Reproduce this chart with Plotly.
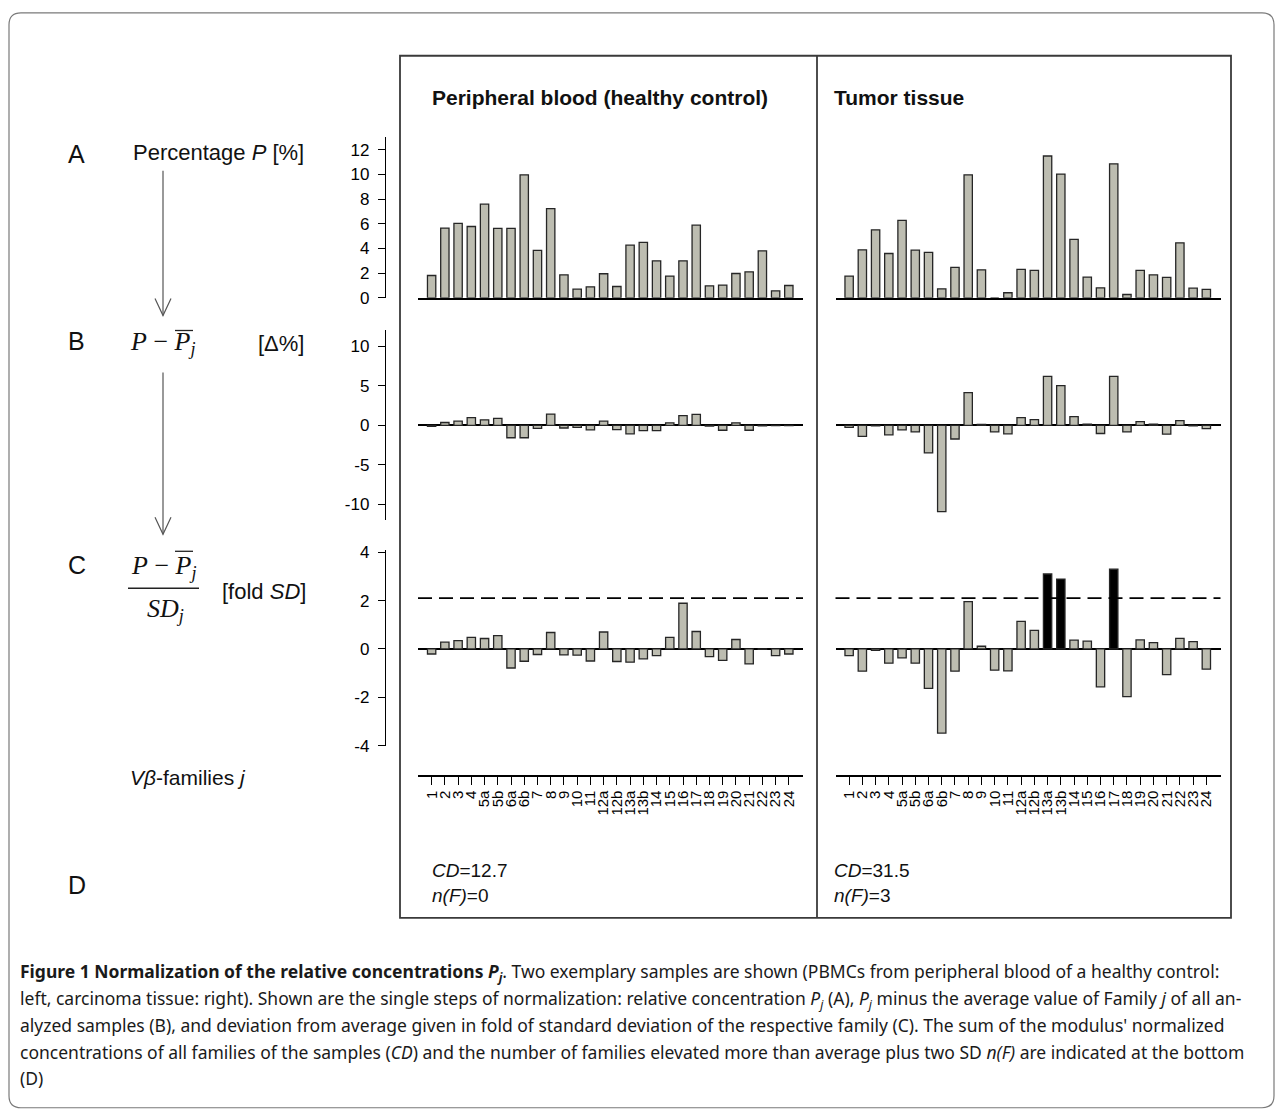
import plotly.graph_objects as go

W, H = 1283, 1117

families = ["1", "2", "3", "4", "5a", "5b", "6a", "6b", "7", "8", "9", "10", "11",
            "12a", "12b", "13a", "13b", "14", "15", "16", "17", "18", "19", "20",
            "21", "22", "23", "24"]

blood_pct = [1.81, 5.65, 6.03, 5.78, 7.59, 5.62, 5.62, 9.97, 3.84, 7.22, 1.86, 0.70, 0.89,
             1.95, 0.92, 4.27, 4.49, 3.00, 1.76, 3.00, 5.89, 0.97, 1.03, 1.97, 2.11, 3.81,
             0.57, 1.00]
tumor_pct = [1.76, 3.89, 5.51, 3.59, 6.27, 3.86, 3.68, 0.73, 2.46, 9.97, 2.27, 0.0, 0.41,
             2.30, 2.22, 11.49, 10.03, 4.73, 1.68, 0.81, 10.86, 0.27, 2.22, 1.86, 1.65, 4.46,
             0.78, 0.68]
blood_delta = [-0.12, 0.37, 0.53, 0.98, 0.70, 0.90, -1.56, -1.56, -0.37, 1.43, -0.33, -0.25,
               -0.57, 0.53, -0.53, -1.07, -0.66, -0.66, 0.33, 1.23, 1.39, -0.08, -0.61, 0.33,
               -0.61, -0.04, -0.03, -0.03]
tumor_delta = [-0.25, -1.39, -0.04, -1.19, -0.57, -0.82, -3.48, -10.89, -1.72, 4.14, 0.12,
               -0.82, -1.07, 0.98, 0.74, 6.19, 5.04, 1.11, 0.16, -1.02, 6.19, -0.82, 0.49,
               0.16, -1.11, 0.61, -0.04, -0.41]
blood_sd = [-0.21, 0.28, 0.34, 0.48, 0.43, 0.55, -0.79, -0.51, -0.23, 0.68, -0.25, -0.26,
            -0.50, 0.70, -0.52, -0.55, -0.41, -0.28, 0.48, 1.89, 0.72, -0.32, -0.47, 0.39,
            -0.62, -0.02, -0.28, -0.21]
tumor_sd = [-0.28, -0.92, -0.06, -0.59, -0.37, -0.59, -1.63, -3.48, -0.92, 1.96, 0.11, -0.88,
            -0.91, 1.14, 0.77, 3.10, 2.89, 0.36, 0.32, -1.57, 3.30, -1.97, 0.37, 0.26, -1.06,
            0.44, 0.30, -0.84]

threshold = 2.1
pct_ticks = [0, 2, 4, 6, 8, 10, 12]
delta_ticks = [-10, -5, 0, 5, 10]
sd_ticks = [-4, -2, 0, 2, 4]
col_titles = ["Peripheral blood (healthy control)", "Tumor tissue"]
cd_values = ["12.7", "31.5"]
nf_values = ["0", "3"]

GREY = "#bdbdb1"
EDGE = "#262626"
SANS = "Liberation Sans, Arial, sans-serif"
SERIF = "Liberation Serif, Times New Roman, serif"

# the photographed page is slightly squeezed vertically; map reference pixels to layout pixels
Y_SCALE, Y_OFF = 0.9857, 6.2


def px(x):
    return x / W


def py(y):
    return 1 - ((y - Y_OFF) / Y_SCALE) / H


XRANGE = [-1.03, 28.07]
left_dom = [px(418), px(803)]
right_dom = [px(835.5), px(1220.5)]
a_dom = [py(297.3), py(136.7)]
b_dom = [py(520), py(330)]
c_dom = [py(745.5), py(550)]

fig = go.Figure()

panels = [
    (blood_pct, "x", "y", None),
    (tumor_pct, "x2", "y2", None),
    (blood_delta, "x3", "y3", None),
    (tumor_delta, "x4", "y4", None),
    (blood_sd, "x5", "y5", "sd"),
    (tumor_sd, "x6", "y6", "sd"),
]
for vals, xa, ya, kind in panels:
    if kind == "sd":
        colors = ["black" if v > threshold else GREY for v in vals]
    else:
        colors = GREY
    fig.add_trace(go.Bar(
        x=families, y=vals, xaxis=xa, yaxis=ya, width=0.63,
        marker=dict(color=colors, line=dict(color=EDGE, width=1.3)),
        showlegend=False, hoverinfo="x+y"))

tickfont = dict(family=SANS, size=17, color="black")


def xax(dom, anchor, showline=False):
    return dict(domain=dom, anchor=anchor, range=XRANGE, type="category",
                categoryorder="array", categoryarray=families,
                showgrid=False, zeroline=False, showline=showline,
                linecolor="black", linewidth=1.6, ticks="", showticklabels=False,
                fixedrange=True)


def yax(dom, rng, ticks=None, zl=True):
    d = dict(domain=dom, range=rng, showgrid=False, fixedrange=True,
             zeroline=zl, zerolinecolor="black", zerolinewidth=1.6)
    if ticks is not None:
        d.update(anchor="free", position=px(385), showline=True, linecolor="black",
                 linewidth=1.3, ticks="outside", ticklen=7, tickwidth=1.3,
                 tickcolor="black", tickmode="array", tickvals=ticks,
                 ticktext=[str(t) for t in ticks],
                 tickfont=tickfont, ticklabelstandoff=5)
    else:
        d.update(showline=False, ticks="", showticklabels=False)
    return d


layout_axes = dict(
    xaxis=xax(left_dom, "y", showline=True),
    xaxis2=xax(right_dom, "y2", showline=True),
    xaxis3=xax(left_dom, "y3"),
    xaxis4=xax(right_dom, "y4"),
    xaxis5=xax(left_dom, "y5"),
    xaxis6=xax(right_dom, "y6"),
    yaxis=yax(a_dom, [0, 13], pct_ticks, zl=False),
    yaxis2=yax(a_dom, [0, 13], None, zl=False),
    yaxis3=yax(b_dom, [-12, 12], delta_ticks),
    yaxis4=yax(b_dom, [-12, 12], None),
    yaxis5=yax(c_dom, [-4, 4.08], sd_ticks),
    yaxis6=yax(c_dom, [-4, 4.08], None),
)
# family tick axes at the bottom (row D)
for name in ("xaxis5", "xaxis6"):
    layout_axes[name].update(
        anchor="free", position=py(775.7), showline=True, linewidth=1.6,
        ticks="outside", ticklen=8, tickwidth=1.3, tickcolor="black",
        showticklabels=True, tickmode="array", tickvals=families, ticktext=families,
        tickangle=-90, tickfont=dict(family=SANS, size=15, color="black"))

shapes = []
line_col = "#3a3a3a"
# outer rounded box
x0, y0, x1, y1, r = 9, 12, 1274, 1108, 12
path = (f"M {px(x0 + r)},{py(y0)} L {px(x1 - r)},{py(y0)} Q {px(x1)},{py(y0)} {px(x1)},{py(y0 + r)} "
        f"L {px(x1)},{py(y1 - r)} Q {px(x1)},{py(y1)} {px(x1 - r)},{py(y1)} "
        f"L {px(x0 + r)},{py(y1)} Q {px(x0)},{py(y1)} {px(x0)},{py(y1 - r)} "
        f"L {px(x0)},{py(y0 + r)} Q {px(x0)},{py(y0)} {px(x0 + r)},{py(y0)} Z")
shapes.append(dict(type="path", xref="paper", yref="paper", path=path,
                   line=dict(color="#7a7a7a", width=1.2)))
# panel frame
shapes.append(dict(type="rect", xref="paper", yref="paper", x0=px(400), x1=px(1231),
                   y0=py(918), y1=py(55), line=dict(color=line_col, width=1.8)))
shapes.append(dict(type="line", xref="paper", yref="paper", x0=px(817), x1=px(817),
                   y0=py(918), y1=py(55), line=dict(color=line_col, width=1.8)))
# threshold dashed lines
for xa, ya in (("x5", "y5"), ("x6", "y6")):
    shapes.append(dict(type="line", xref=f"{xa} domain", yref=ya, x0=0, x1=1,
                       y0=threshold, y1=threshold,
                       line=dict(color="black", width=1.8, dash="14px,7px")))
# arrows
arrow_col = "#555555"
for ys, ye in ((170, 315), (372, 534)):
    shapes.append(dict(type="line", xref="paper", yref="paper", x0=px(163), x1=px(163),
                       y0=py(ys), y1=py(ye), line=dict(color=arrow_col, width=1.2)))
    shapes.append(dict(type="path", xref="paper", yref="paper",
                       path=f"M {px(155)},{py(ye - 17)} L {px(163)},{py(ye)} L {px(171)},{py(ye - 17)}",
                       line=dict(color=arrow_col, width=1.2)))
# overlines on P-bar
for xs, xe, yy in ((175, 193, 330), (175, 193, 551)):
    shapes.append(dict(type="line", xref="paper", yref="paper", x0=px(xs), x1=px(xe),
                       y0=py(yy), y1=py(yy), line=dict(color="#222", width=1.3)))
# fraction line
shapes.append(dict(type="line", xref="paper", yref="paper", x0=px(128), x1=px(199),
                   y0=py(588), y1=py(588), line=dict(color="#222", width=1.3)))

ann = []


def text(x, y, s, size, family=SANS, xanchor="left", color="#111"):
    ann.append(dict(x=px(x), y=py(y), xref="paper", yref="paper", text=s, showarrow=False,
                    xanchor=xanchor, yanchor="middle",
                    font=dict(family=family, size=size, color=color)))


# column titles
text(430, 97, f"<b>{col_titles[0]}</b>", 21)
text(832, 97, f"<b>{col_titles[1]}</b>", 21)
# row letters
for letter, yy in (("A", 153), ("B", 341), ("C", 565), ("D", 885)):
    text(66, yy, letter, 25)
text(131, 152, "Percentage <i>P</i> [%]", 22)
text(128, 343, "<i>P</i> − <i>P</i><sub><i>j</i></sub>", 26, family=SERIF)
text(256, 343, "[Δ%]", 22)
text(164, 567, "<i>P</i> − <i>P</i><sub><i>j</i></sub>", 26, family=SERIF, xanchor="center")
text(165, 610, "<i>SD</i><sub><i>j</i></sub>", 26, family=SERIF, xanchor="center")
text(220, 591, "[fold <i>SD</i>]", 22)
text(128, 777, "<i>Vβ</i>-families <i>j</i>", 21)
# bottom statistics
for xx, cd, nf in ((430, cd_values[0], nf_values[0]), (832, cd_values[1], nf_values[1])):
    text(xx, 871, f"<i>CD</i>={cd}", 19)
    text(xx, 896, f"<i>n(F)</i>={nf}", 19)

# caption
CAP = "Noto Sans, Open Sans, sans-serif"
cap_lines = [
    "<b>Figure 1 Normalization of the relative concentrations <i>P<sub>j</sub></i></b>. Two exemplary samples are shown (PBMCs from peripheral blood of a healthy control:",
    "left, carcinoma tissue: right). Shown are the single steps of normalization: relative concentration <i>P<sub>j</sub></i> (A), <i>P<sub>j</sub></i> minus the average value of Family <i>j</i> of all an-",
    "alyzed samples (B), and deviation from average given in fold of standard deviation of the respective family (C). The sum of the modulus' normalized",
    "concentrations of all families of the samples (<i>CD</i>) and the number of families elevated more than average plus two SD <i>n(F)</i> are indicated at the bottom",
    "(D)",
]
for i, line in enumerate(cap_lines):
    text(18, 973 + i * 26.3, line, 17.5, family=CAP, color="#1a1a1a")

fig.update_layout(
    width=W, height=H, margin=dict(l=0, r=0, t=0, b=0),
    paper_bgcolor="white", plot_bgcolor="rgba(0,0,0,0)",
    bargap=0.3, shapes=shapes, annotations=ann, showlegend=False,
    **layout_axes)

fig.write_html("out.html", config={"displayModeBar": False},
               post_script="document.body.style.margin='0px';")
